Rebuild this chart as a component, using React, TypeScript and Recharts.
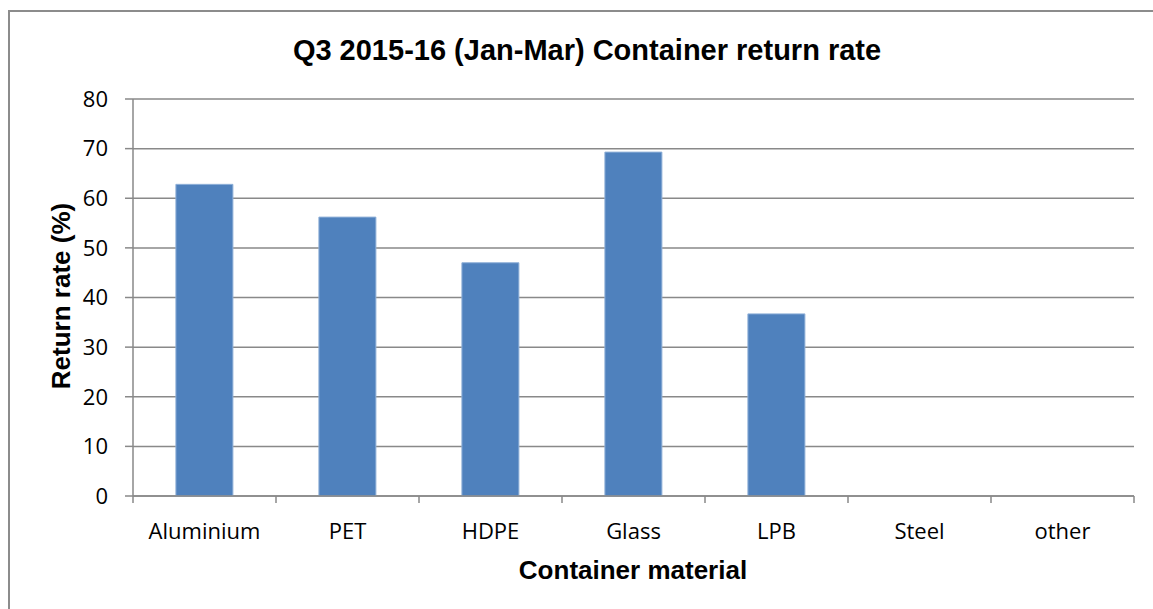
import { BarChart, Bar, XAxis, YAxis, CartesianGrid } from "recharts";

const materials = ["Aluminium", "PET", "HDPE", "Glass", "LPB", "Steel", "other"];
const returnRates = [62.8, 56.2, 47.0, 69.3, 36.7, null, null];
const yTicks = [0, 10, 20, 30, 40, 50, 60, 70, 80];

const data = materials.map((m, i) => ({ material: m, rate: returnRates[i] }));

const PLOT_LEFT = 133;
const PLOT_RIGHT = 1134;
const STEP = (PLOT_RIGHT - PLOT_LEFT) / materials.length;
const GREY = "#898989";
const BOLD_FONT = "'Liberation Sans', Arial, sans-serif";
const TICK_FONT = "'Open Sans', sans-serif";

const XTick = (props: any) => {
    const { x, y, payload, index } = props;
    const left = x - STEP / 2;
    const last = index === materials.length - 1;
    return (
        <g>
            <line x1={left} y1={y - 8} x2={left} y2={y - 1} stroke={GREY} strokeWidth={1.5} />
            {last && (
                <line x1={x + STEP / 2} y1={y - 8} x2={x + STEP / 2} y2={y - 1} stroke={GREY} strokeWidth={1.5} />
            )}
            <text x={x} y={y + 35} textAnchor="middle" fontSize={22} fill="#000" fontFamily={TICK_FONT}>
                {payload.value}
            </text>
        </g>
    );
};

const App = () => {
    return (
        <div style={{ position: "absolute", left: 0, top: 0, width: 1153, height: 609, background: "#fff", overflow: "hidden" }}>
            <div style={{ position: "absolute", left: 8, top: 10, width: 1200, height: 700, border: "2px solid #8c8c8c", boxSizing: "border-box" }} />
            <div style={{ position: "absolute", left: 0, top: 0 }}>
                <BarChart
                    width={1153}
                    height={609}
                    data={data}
                    barCategoryGap="30%"
                    margin={{ top: 99, right: 1153 - PLOT_RIGHT, left: 73, bottom: 73 }}
                >
                    <text x={587} y={60} textAnchor="middle" fontSize={29} fontWeight="bold" fontFamily={BOLD_FONT}>
                        Q3 2015-16 (Jan-Mar) Container return rate
                    </text>
                    <CartesianGrid vertical={false} stroke={GREY} strokeWidth={1.5} />
                    <XAxis
                        dataKey="material"
                        height={40}
                        axisLine={{ stroke: GREY, strokeWidth: 1.5 }}
                        tickLine={false}
                        tick={<XTick />}
                        interval={0}
                    />
                    <YAxis
                        width={60}
                        domain={[0, 80]}
                        ticks={yTicks}
                        axisLine={{ stroke: GREY, strokeWidth: 1.5 }}
                        tickLine={{ stroke: GREY, strokeWidth: 1.5 }}
                        tickSize={8}
                        tickMargin={17}
                        tick={{ fontSize: 22, fill: "#000", fontFamily: TICK_FONT }}
                    />
                    <Bar dataKey="rate" fill="#4f81bd" stroke="#8fb0d8" strokeWidth={1} isAnimationActive={false} />
                    <text
                        x={61}
                        y={296}
                        textAnchor="middle"
                        fontSize={26}
                        fontWeight="bold"
                        fontFamily={BOLD_FONT}
                        transform="rotate(-90, 61, 296)"
                        dominantBaseline="central"
                    >
                        Return rate (%)
                    </text>
                    <text x={633} y={579} textAnchor="middle" fontSize={26} fontWeight="bold" fontFamily={BOLD_FONT}>
                        Container material
                    </text>
                </BarChart>
            </div>
        </div>
    );
};

export default App;
